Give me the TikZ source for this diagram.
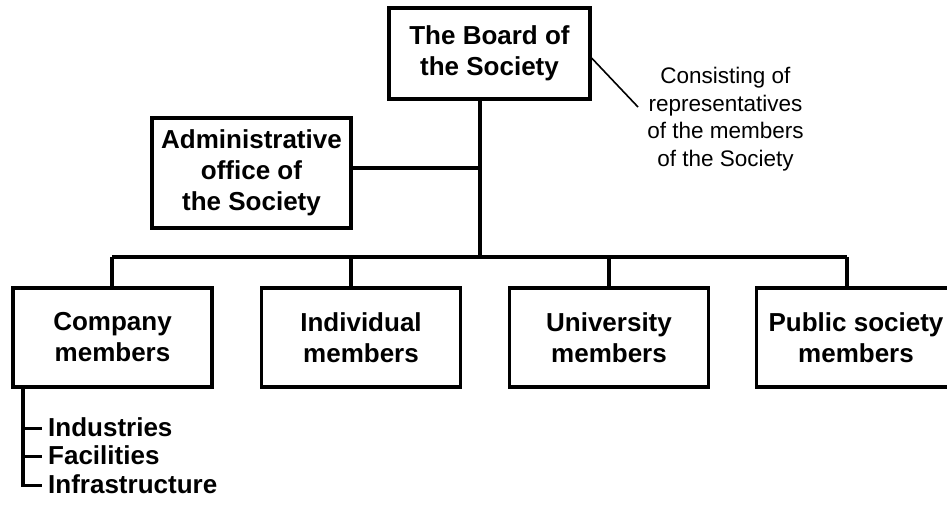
\documentclass[tikz,border=0pt]{standalone}
\usepackage{fontspec}
\setmainfont{Liberation Sans}
\begin{document}
\begin{tikzpicture}[x=1pt,y=-1pt,
  box/.style={draw,line width=3.2pt,inner sep=0pt,align=center,
    font=\bfseries\fontsize{26}{31}\selectfont,minimum width=199pt,minimum height=99pt},
  conn/.style={line width=3.2pt},
  thin/.style={line width=1.6pt},
  item/.style={inner sep=0pt,anchor=base west,font=\bfseries\fontsize{26}{29}\selectfont},
  note/.style={align=center,inner sep=0pt,font=\fontsize{22.5}{27.5}\selectfont}]
\useasboundingbox (0,0) rectangle (947,504);
% boxes
\node[box,minimum width=201pt,minimum height=91pt] (board) at (489.5,53.5) {The Board of\\the Society};
\node[box,minimum height=110pt] (admin) at (251.5,173) {Administrative\\office of\\the Society};
\node[box] (company) at (112.5,337.5) {Company\\members};
\node[box] (indiv) at (361,337.5) {Individual\\members};
\node[box] (univ) at (609,337.5) {University\\members};
\node[box] (public) at (856,337.5) {Public society\\members};
% annotation
\node[note] (note) at (725.5,119) {Consisting of\\representatives\\of the members\\of the Society};
\coordinate (noteend) at (638,107);
\draw[thin] ([yshift=-4.5pt]board.east) -- (noteend);
% trunk and bus
\coordinate (trunk) at (480,257);
\coordinate (bl) at (112,257);
\coordinate (dI) at (351,257);
\coordinate (dU) at (609,257);
\coordinate (br) at (847,257);
\draw[conn] (trunk |- board.south) -- (trunk);
\draw[conn] ([yshift=5pt]admin.east) -- ([yshift=5pt]admin.east -| trunk);
\draw[conn] (bl) -- (br);
\draw[conn] (bl) -- (bl |- company.north);
\draw[conn] (dI) -- (dI |- indiv.north);
\draw[conn] (dU) -- (dU |- univ.north);
\draw[conn] (br) -- (br |- public.north);
% list
\node[item] (ind) at (48,436) {Industries};
\node[item] (fac) at (48,464.5) {Facilities};
\node[item] (inf) at (48,493) {Infrastructure};
\coordinate (lv) at (23,387);
\draw[conn] (lv |- company.south) |- ([xshift=-6pt,yshift=-1.5pt]inf.west);
\draw[conn] (lv |- ind.west) ++(0,1.5) -- ([xshift=-6pt,yshift=-1.5pt]ind.west);
\draw[conn] (lv |- fac.west) ++(0,1.5) -- ([xshift=-6pt,yshift=-1.5pt]fac.west);
\end{tikzpicture}
\end{document}
